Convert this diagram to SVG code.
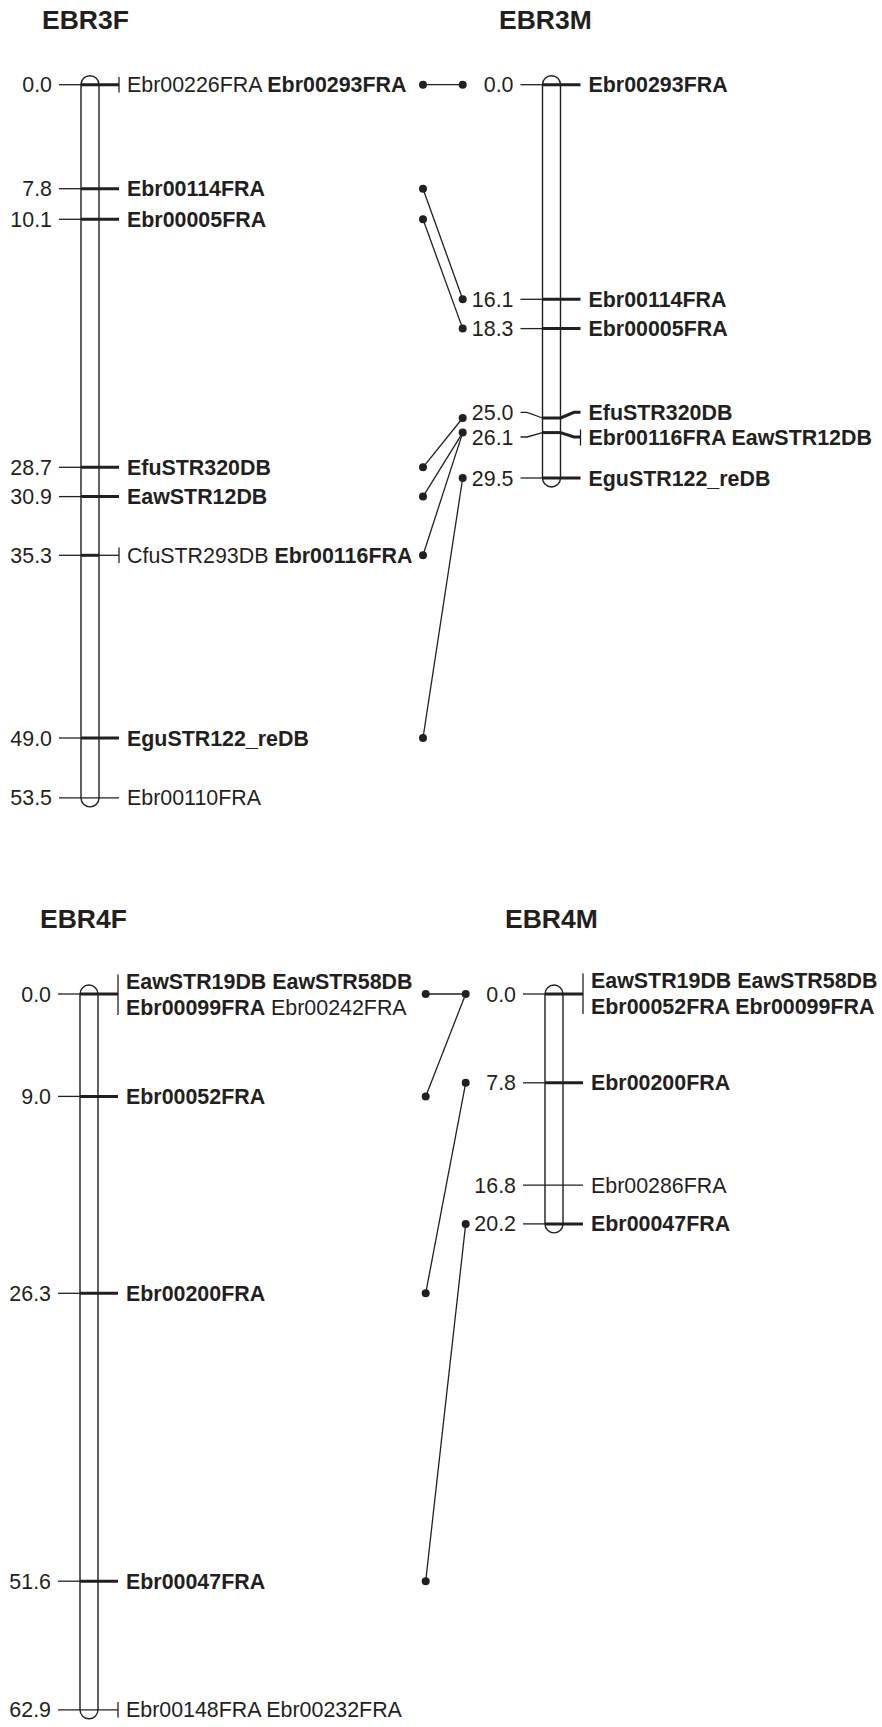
<svg xmlns="http://www.w3.org/2000/svg" width="882" height="1727" viewBox="0 0 882 1727">
<style>
text{font-family:"Liberation Sans",Arial,Helvetica,sans-serif;font-size:21.4px;fill:#231f20}
.t{font-size:26.5px;font-weight:bold}
.b{font-weight:bold}
.n{text-anchor:end}
.bar{fill:#fff;stroke:#231f20;stroke-width:1.4}
.th{stroke:#231f20;stroke-width:1.3;fill:none}
.tk{stroke:#231f20;stroke-width:3;fill:none}
.c{stroke:#231f20;stroke-width:1.3;fill:none}
.d{fill:#231f20}
</style>
<rect width="882" height="1727" fill="#fff"/>

<g id="EBR3F">
<text class="t" x="42" y="29">EBR3F</text>
<path class="bar" d="M81,84.7 A9,9 0 0 1 99,84.7 L99,797.9 A9,9 0 0 1 81,797.9 Z"/>
<text class="n" x="52" y="92.2">0.0</text>
<line class="th" x1="59" y1="84.7" x2="81" y2="84.7"/>
<line class="tk" x1="81" y1="84.7" x2="119" y2="84.7"/>
<line class="th" x1="119" y1="77" x2="119" y2="92.5"/>
<text x="127" y="92.2">Ebr00226FRA <tspan class="b">Ebr00293FRA</tspan></text>
<text class="n" x="52" y="196.2">7.8</text>
<line class="th" x1="59" y1="188.7" x2="81" y2="188.7"/>
<line class="tk" x1="81" y1="188.7" x2="119" y2="188.7"/>
<text class="b" x="127" y="196.2">Ebr00114FRA</text>
<text class="n" x="52" y="226.8">10.1</text>
<line class="th" x1="59" y1="219.3" x2="81" y2="219.3"/>
<line class="tk" x1="81" y1="219.3" x2="119" y2="219.3"/>
<text class="b" x="127" y="226.8">Ebr00005FRA</text>
<text class="n" x="52" y="474.8">28.7</text>
<line class="th" x1="59" y1="467.3" x2="81" y2="467.3"/>
<line class="tk" x1="81" y1="467.3" x2="119" y2="467.3"/>
<text class="b" x="127" y="474.8">EfuSTR320DB</text>
<text class="n" x="52" y="504.1">30.9</text>
<line class="th" x1="59" y1="496.6" x2="81" y2="496.6"/>
<line class="tk" x1="81" y1="496.6" x2="119" y2="496.6"/>
<text class="b" x="127" y="504.1">EawSTR12DB</text>
<text class="n" x="52" y="562.8">35.3</text>
<line class="th" x1="59" y1="555.3" x2="81" y2="555.3"/>
<line class="tk" x1="81" y1="555.3" x2="99" y2="555.3"/>
<line class="th" x1="99" y1="555.3" x2="119" y2="555.3"/>
<line class="th" x1="119" y1="547.5" x2="119" y2="563"/>
<text x="127" y="562.8">CfuSTR293DB <tspan class="b">Ebr00116FRA</tspan></text>
<text class="n" x="52" y="745.5">49.0</text>
<line class="th" x1="59" y1="738" x2="81" y2="738"/>
<line class="tk" x1="81" y1="738" x2="119" y2="738"/>
<text class="b" x="127" y="745.5">EguSTR122_reDB</text>
<text class="n" x="52" y="805.4">53.5</text>
<line class="th" x1="59" y1="797.9" x2="119" y2="797.9"/>
<text x="127" y="805.4">Ebr00110FRA</text>
</g>

<g id="EBR3M">
<text class="t" x="499" y="29">EBR3M</text>
<path class="bar" d="M542.5,84.7 A9,9 0 0 1 560.5,84.7 L560.5,478 A9,9 0 0 1 542.5,478 Z"/>
<text class="n" x="513.5" y="92.2">0.0</text>
<line class="th" x1="520.5" y1="84.7" x2="542.5" y2="84.7"/>
<line class="tk" x1="542.5" y1="84.7" x2="580.5" y2="84.7"/>
<text class="b" x="588.5" y="92.2">Ebr00293FRA</text>
<text class="n" x="513.5" y="306.8">16.1</text>
<line class="th" x1="520.5" y1="299.3" x2="542.5" y2="299.3"/>
<line class="tk" x1="542.5" y1="299.3" x2="580.5" y2="299.3"/>
<text class="b" x="588.5" y="306.8">Ebr00114FRA</text>
<text class="n" x="513.5" y="336.1">18.3</text>
<line class="th" x1="520.5" y1="328.6" x2="542.5" y2="328.6"/>
<line class="tk" x1="542.5" y1="328.6" x2="580.5" y2="328.6"/>
<text class="b" x="588.5" y="336.1">Ebr00005FRA</text>
<text class="n" x="513.5" y="419.8">25.0</text>
<polyline class="th" points="520.5,412.3 527,412.3 542.5,418"/>
<line class="tk" x1="542.5" y1="418" x2="560.5" y2="418"/>
<polyline class="tk" points="560.5,418 574,412.3 580.5,412.3"/>
<text class="b" x="588.5" y="419.8">EfuSTR320DB</text>
<text class="n" x="513.5" y="444.5">26.1</text>
<polyline class="th" points="520.5,437 527,437 542.5,432.6"/>
<line class="tk" x1="542.5" y1="432.6" x2="560.5" y2="432.6"/>
<polyline class="tk" points="560.5,432.6 574,437 580.5,437"/>
<line class="th" x1="580.5" y1="429.5" x2="580.5" y2="445.5"/>
<text class="b" x="588.5" y="444.5">Ebr00116FRA EawSTR12DB</text>
<text class="n" x="513.5" y="485.5">29.5</text>
<line class="th" x1="520.5" y1="478" x2="542.5" y2="478"/>
<line class="tk" x1="542.5" y1="478" x2="580.5" y2="478"/>
<text class="b" x="588.5" y="485.5">EguSTR122_reDB</text>
</g>

<g id="EBR4F">
<text class="t" x="40" y="928">EBR4F</text>
<path class="bar" d="M80,994 A9,9 0 0 1 98,994 L98,1709.8 A9,9 0 0 1 80,1709.8 Z"/>
<text class="n" x="51" y="1001.5">0.0</text>
<line class="th" x1="58" y1="994" x2="80" y2="994"/>
<line class="tk" x1="80" y1="994" x2="118" y2="994"/>
<line class="th" x1="118" y1="974.5" x2="118" y2="1015"/>
<text class="b" x="126" y="989">EawSTR19DB EawSTR58DB</text>
<text x="126" y="1015"><tspan class="b">Ebr00099FRA</tspan> Ebr00242FRA</text>
<text class="n" x="51" y="1103.9">9.0</text>
<line class="th" x1="58" y1="1096.4" x2="80" y2="1096.4"/>
<line class="tk" x1="80" y1="1096.4" x2="118" y2="1096.4"/>
<text class="b" x="126" y="1103.9">Ebr00052FRA</text>
<text class="n" x="51" y="1300.8">26.3</text>
<line class="th" x1="58" y1="1293.3" x2="80" y2="1293.3"/>
<line class="tk" x1="80" y1="1293.3" x2="118" y2="1293.3"/>
<text class="b" x="126" y="1300.8">Ebr00200FRA</text>
<text class="n" x="51" y="1588.7">51.6</text>
<line class="th" x1="58" y1="1581.2" x2="80" y2="1581.2"/>
<line class="tk" x1="80" y1="1581.2" x2="118" y2="1581.2"/>
<text class="b" x="126" y="1588.7">Ebr00047FRA</text>
<text class="n" x="51" y="1717.3">62.9</text>
<line class="th" x1="58" y1="1709.8" x2="118" y2="1709.8"/>
<line class="th" x1="118" y1="1702" x2="118" y2="1717.5"/>
<text x="126" y="1717.3">Ebr00148FRA Ebr00232FRA</text>
</g>

<g id="EBR4M">
<text class="t" x="505" y="928">EBR4M</text>
<path class="bar" d="M545,994 A9,9 0 0 1 563,994 L563,1223.9 A9,9 0 0 1 545,1223.9 Z"/>
<text class="n" x="516" y="1001.5">0.0</text>
<line class="th" x1="523" y1="994" x2="545" y2="994"/>
<line class="tk" x1="545" y1="994" x2="583" y2="994"/>
<line class="th" x1="583" y1="973.5" x2="583" y2="1014"/>
<text class="b" x="591" y="988">EawSTR19DB EawSTR58DB</text>
<text class="b" x="591" y="1014">Ebr00052FRA Ebr00099FRA</text>
<text class="n" x="516" y="1090.3">7.8</text>
<line class="th" x1="523" y1="1082.8" x2="545" y2="1082.8"/>
<line class="tk" x1="545" y1="1082.8" x2="583" y2="1082.8"/>
<text class="b" x="591" y="1090.3">Ebr00200FRA</text>
<text class="n" x="516" y="1192.7">16.8</text>
<line class="th" x1="523" y1="1185.2" x2="583" y2="1185.2"/>
<text x="591" y="1192.7">Ebr00286FRA</text>
<text class="n" x="516" y="1231.4">20.2</text>
<line class="th" x1="523" y1="1223.9" x2="545" y2="1223.9"/>
<line class="tk" x1="545" y1="1223.9" x2="583" y2="1223.9"/>
<text class="b" x="591" y="1231.4">Ebr00047FRA</text>
</g>

<g id="connectors">
<line class="c" x1="423" y1="84.7" x2="462.7" y2="84.7"/>
<line class="c" x1="423" y1="188.7" x2="462.7" y2="299.3"/>
<line class="c" x1="423" y1="219.3" x2="462.7" y2="328.6"/>
<line class="c" x1="423" y1="467.3" x2="462.7" y2="418"/>
<line class="c" x1="423" y1="496.6" x2="462.7" y2="432.6"/>
<line class="c" x1="423" y1="555.3" x2="462.7" y2="432.6"/>
<line class="c" x1="423" y1="738" x2="462.7" y2="478"/>
<g class="d">
<circle cx="423" cy="84.7" r="4"/><circle cx="462.7" cy="84.7" r="4"/>
<circle cx="423" cy="188.7" r="4"/><circle cx="462.7" cy="299.3" r="4"/>
<circle cx="423" cy="219.3" r="4"/><circle cx="462.7" cy="328.6" r="4"/>
<circle cx="423" cy="467.3" r="4"/><circle cx="462.7" cy="418" r="4"/>
<circle cx="423" cy="496.6" r="4"/><circle cx="462.7" cy="432.6" r="4"/>
<circle cx="423" cy="555.3" r="4"/>
<circle cx="423" cy="738" r="4"/><circle cx="462.7" cy="478" r="4"/>
</g>
<line class="c" x1="425.7" y1="994" x2="465.7" y2="994"/>
<line class="c" x1="465.7" y1="994" x2="425.7" y2="1096.4"/>
<line class="c" x1="465.7" y1="1082.8" x2="425.7" y2="1293.3"/>
<line class="c" x1="465.7" y1="1223.9" x2="425.7" y2="1581.2"/>
<g class="d">
<circle cx="425.7" cy="994" r="4"/><circle cx="465.7" cy="994" r="4"/>
<circle cx="425.7" cy="1096.4" r="4"/>
<circle cx="465.7" cy="1082.8" r="4"/><circle cx="425.7" cy="1293.3" r="4"/>
<circle cx="465.7" cy="1223.9" r="4"/><circle cx="425.7" cy="1581.2" r="4"/>
</g>
</g>
</svg>
